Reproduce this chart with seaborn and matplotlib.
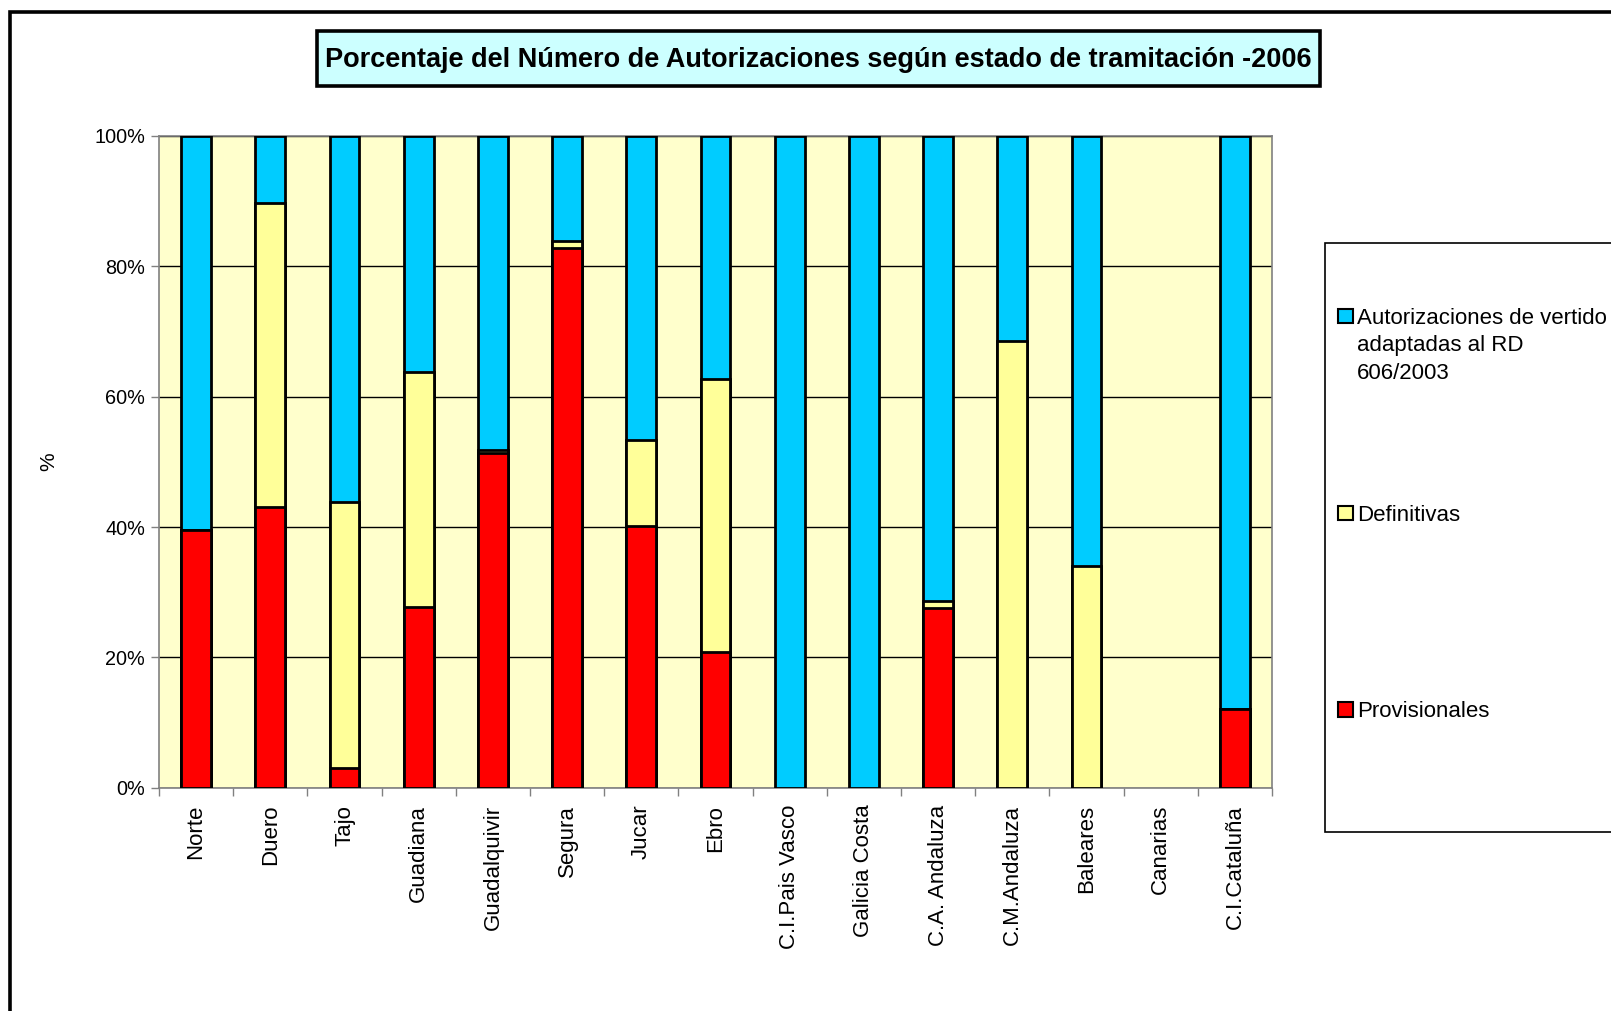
import numpy as np
import pandas as pd
import matplotlib
matplotlib.use("Agg")
import matplotlib.pyplot as plt
from matplotlib.patches import Rectangle
from matplotlib.ticker import FuncFormatter
import seaborn as sns

cuencas = ["Norte", "Duero", "Tajo", "Guadiana", "Guadalquivir", "Segura", "Jucar",
           "Ebro", "C.I.Pais Vasco", "Galicia Costa", "C.A. Andaluza", "C.M.Andaluza",
           "Baleares", "Canarias", "C.I.Cataluña"]
provisionales = [39.5, 43.1, 3.1, 27.7, 51.3, 82.7, 40.2, 20.8, 0, 0, 27.6, 0, 0, 0, 12.1]
definitivas = [0, 46.5, 40.7, 36.1, 0.5, 1.2, 13.2, 41.9, 0, 0, 1.1, 68.5, 34.0, 0, 0]
adaptadas = [60.5, 10.4, 56.2, 36.2, 48.2, 16.1, 46.6, 37.3, 100, 100, 71.3, 31.5, 66.0, 0, 87.9]

series = ["Autorizaciones de vertido\nadaptadas al RD\n606/2003", "Definitivas", "Provisionales"]
colores = ["#00CCFF", "#FFFF99", "#FF0000"]

df = pd.DataFrame({"cuenca": cuencas, "prov": provisionales,
                   "defi": definitivas, "adap": adaptadas})
df["c_prov"] = df["prov"]
df["c_defi"] = df["prov"] + df["defi"]
df["c_adap"] = df["c_defi"] + df["adap"]
for c in ["c_prov", "c_defi", "c_adap"]:
    df[c] = df[c].where(df[c] > 0)

sns.set_style("white")
plt.rcParams["font.family"] = ["Liberation Sans", "DejaVu Sans"]
plt.rcParams.update({"text.color": "black", "axes.labelcolor": "black",
                     "xtick.color": "black", "ytick.color": "black"})

fig = plt.figure(figsize=(16.11, 10.11), dpi=100)
ax = fig.add_axes([0.0987, 0.2206, 0.6909, 0.6453])
ax.set_facecolor("#FFFFCC")

# stacked bars: draw cumulative totals from top layer down
for col, color in zip(["c_adap", "c_defi", "c_prov"], colores):
    sns.barplot(data=df, x="cuenca", y=col, order=cuencas, color=color,
                saturation=1, width=0.4, edgecolor="black", linewidth=2,
                errorbar=None, ax=ax, zorder=3)

ax.set_xlim(-0.5, len(cuencas) - 0.5)
ax.set_ylim(0, 100)
ax.set_yticks(np.arange(0, 101, 20))
ax.yaxis.set_major_formatter(FuncFormatter(lambda v, p: f"{v:.0f}%"))
ax.yaxis.grid(True, color="black", linewidth=1)
ax.set_axisbelow(True)
ax.set_xlabel("")
ax.set_ylabel("%", fontsize=15, labelpad=26)

ax.set_xticks(range(len(cuencas)))
ax.set_xticklabels(cuencas, rotation=90, fontsize=16, va="top")
ax.set_xticks(np.arange(-0.5, len(cuencas), 1), minor=True)
ax.tick_params(axis="x", which="major", length=0, pad=12)
ax.tick_params(axis="x", which="minor", length=6, width=1, color="#808080", direction="out")
ax.tick_params(axis="y", length=6, width=1, color="#808080", direction="out", labelsize=14.3, pad=4)
ax.tick_params(bottom=True, left=True, which="both")
for s in ax.spines.values():
    s.set_color("#808080")
    s.set_linewidth(1.2)

# outer frame (cut off on right and bottom)
fig.add_artist(Rectangle((0.0062, -0.5), 2, 1.4886, transform=fig.transFigure,
                         fill=False, edgecolor="black", linewidth=2.6))

# title box
fig.add_artist(Rectangle((0.1968, 0.9149), 0.6226, 0.0544, transform=fig.transFigure,
                         facecolor="#CCFFFF", edgecolor="black", linewidth=2.6))
fig.text(0.5081, 0.9405, "Porcentaje del Número de Autorizaciones según estado de tramitación -2006",
         ha="center", va="center", fontsize=19.5, fontweight="bold")

# legend box
fig.add_artist(Rectangle((0.8225, 0.177), 0.3, 0.5826, transform=fig.transFigure,
                         facecolor="white", edgecolor="black", linewidth=1.2))
ys = [315.5, 512.7, 709]
for lab, color, y in zip(series, colores, ys):
    yf = 1 - y / 1011
    fig.add_artist(Rectangle((1338 / 1611, yf - 7.5 / 1011), 14.5 / 1611, 14.5 / 1011,
                             transform=fig.transFigure, facecolor=color,
                             edgecolor="black", linewidth=1.5))
    fig.text(1357 / 1611, yf + 8 / 1011, lab, ha="left", va="top", fontsize=16,
             linespacing=1.42)

fig.savefig("out.png", dpi=100)
